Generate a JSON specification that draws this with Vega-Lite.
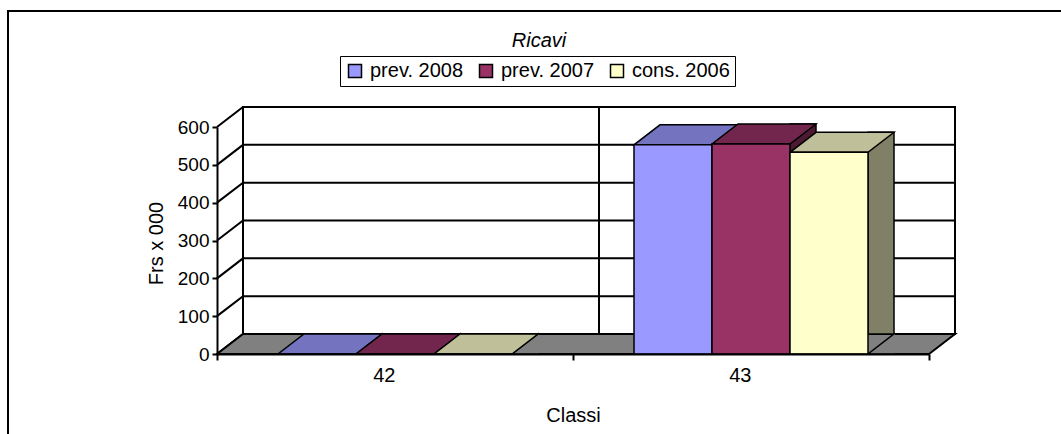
{
  "$schema": "https://vega.github.io/schema/vega-lite/v6.json",
  "width": 712,
  "height": 227,
  "autosize": {"type": "none"},
  "padding": {"left": 217, "top": 127, "right": 132, "bottom": 80},
  "background": "white",
  "config": {
    "font": "Liberation Sans",
    "view": {"stroke": null},
    "axisY": {"title": "Frs x 000", "labelOverlap": false, "grid": false, "domainColor": "black", "domainWidth": 2, "tickColor": "black", "tickWidth": 2, "tickSize": 5, "labelFontSize": 19, "labelColor": "black", "labelPadding": 3, "titleFontSize": 20, "titleFontWeight": "normal", "titleColor": "black", "titleX": -61, "titleY": 116, "titleBaseline": "middle", "zindex": 1}
  },
  "title": {"text": "Ricavi", "fontSize": 20, "fontStyle": "italic", "fontWeight": "normal", "color": "black", "anchor": "middle", "dx": -34, "baseline": "alphabetic", "offset": 0, "dy": 60},
  "datasets": {
    "ricavi": [
      {"classe": "42", "serie": "prev. 2008", "valore": 0},
      {"classe": "42", "serie": "prev. 2007", "valore": 0},
      {"classe": "42", "serie": "cons. 2006", "valore": 0},
      {"classe": "43", "serie": "prev. 2008", "valore": 553},
      {"classe": "43", "serie": "prev. 2007", "valore": 555},
      {"classe": "43", "serie": "cons. 2006", "valore": 533}
    ],
    "griglia": [{"valore": 0}, {"valore": 100}, {"valore": 200}, {"valore": 300}, {"valore": 400}, {"valore": 500}, {"valore": 600}],
    "ancora": [{"k": 1}]
  },
  "layer": [
    {
      "data": {"name": "ancora"},
      "mark": {"type": "point", "shape": "M-209,110L-209,-343L860,-343", "size": 4, "filled": false, "stroke": "black", "strokeWidth": 2, "opacity": 1},
      "encoding": {
        "x": {"datum": "42", "type": "nominal", "bandPosition": 0},
        "y": {"datum": 0, "type": "quantitative", "axis": {"title": "Frs x 000", "values": [0, 100, 200, 300, 400, 500, 600], "labelOverlap": false}}
      }
    },
    {
      "data": {"name": "ancora"},
      "mark": {"type": "point", "shape": "M26,-20L738,-20L738,-247L26,-247Z", "size": 4, "filled": false, "stroke": "black", "strokeWidth": 2, "opacity": 1},
      "encoding": {
        "x": {"datum": "42", "type": "nominal", "bandPosition": 0},
        "y": {"datum": 0, "type": "quantitative", "axis": {"title": "Frs x 000", "values": [0, 100, 200, 300, 400, 500, 600], "labelOverlap": false}}
      }
    },
    {
      "data": {"name": "griglia"},
      "mark": {"type": "point", "shape": "M0,0L26,-20L738,-20", "size": 4, "filled": false, "stroke": "black", "strokeWidth": 2, "opacity": 1},
      "encoding": {
        "x": {"datum": "42", "type": "nominal", "bandPosition": 0},
        "y": {"field": "valore", "type": "quantitative", "axis": {"title": "Frs x 000", "values": [0, 100, 200, 300, 400, 500, 600], "labelOverlap": false}}
      }
    },
    {
      "data": {"name": "ancora"},
      "mark": {"type": "point", "shape": "M26,-20L26,-247", "size": 4, "filled": false, "stroke": "black", "strokeWidth": 2, "opacity": 1},
      "encoding": {
        "x": {"datum": "43", "type": "nominal", "bandPosition": 0},
        "y": {"datum": 0, "type": "quantitative", "axis": {"title": "Frs x 000", "values": [0, 100, 200, 300, 400, 500, 600], "labelOverlap": false}}
      }
    },
    {
      "data": {"name": "ancora"},
      "mark": {"type": "point", "shape": "M0,0L712,0L738,-20L26,-20Z", "size": 4, "filled": true, "fill": "#808080", "stroke": "black", "strokeWidth": 2, "opacity": 1},
      "encoding": {
        "x": {"datum": "42", "type": "nominal", "bandPosition": 0},
        "y": {"datum": 0, "type": "quantitative", "axis": {"title": "Frs x 000", "values": [0, 100, 200, 300, 400, 500, 600], "labelOverlap": false}}
      }
    },
    {
      "data": {"name": "ricavi"},
      "transform": [{"filter": "datum.serie === 'prev. 2008'"}],
      "mark": {"type": "bar", "width": 26, "xOffset": -26, "yOffset": -20, "fill": "#4D4D80", "stroke": "black", "strokeWidth": 1.5, "opacity": 1},
      "encoding": {
        "x": {"field": "classe", "type": "nominal"},
        "y": {"field": "valore", "type": "quantitative", "axis": {"title": "Frs x 000", "values": [0, 100, 200, 300, 400, 500, 600], "labelOverlap": false}}
      }
    },
    {
      "data": {"name": "ricavi"},
      "transform": [{"filter": "datum.serie === 'prev. 2007'"}],
      "mark": {"type": "bar", "width": 26, "xOffset": 52, "yOffset": -20, "fill": "#4D1A33", "stroke": "black", "strokeWidth": 1.5, "opacity": 1},
      "encoding": {
        "x": {"field": "classe", "type": "nominal"},
        "y": {"field": "valore", "type": "quantitative", "axis": {"title": "Frs x 000", "values": [0, 100, 200, 300, 400, 500, 600], "labelOverlap": false}}
      }
    },
    {
      "data": {"name": "ricavi"},
      "transform": [{"filter": "datum.serie === 'cons. 2006'"}],
      "mark": {"type": "bar", "width": 26, "xOffset": 130, "yOffset": -20, "fill": "#808066", "stroke": "black", "strokeWidth": 1.5, "opacity": 1},
      "encoding": {
        "x": {"field": "classe", "type": "nominal"},
        "y": {"field": "valore", "type": "quantitative", "axis": {"title": "Frs x 000", "values": [0, 100, 200, 300, 400, 500, 600], "labelOverlap": false}}
      }
    },
    {
      "data": {"name": "ricavi"},
      "mark": {"type": "point", "shape": "M66,0L39,0L66,-20.8", "size": 4, "filled": true, "fill": "#808080", "stroke": "black", "strokeWidth": 1.5, "opacity": 1},
      "encoding": {
        "x": {"field": "classe", "type": "nominal"},
        "xOffset": {"field": "serie", "type": "nominal", "sort": ["prev. 2008", "prev. 2007", "cons. 2006"]},
        "y": {"datum": 0, "type": "quantitative", "axis": {"title": "Frs x 000", "values": [0, 100, 200, 300, 400, 500, 600], "labelOverlap": false}}
      }
    },
    {
      "data": {"name": "ricavi"},
      "mark": {"type": "point", "shape": "M-39,0L39,0L65,-20L-13,-20Z", "size": 4, "filled": true, "stroke": "black", "strokeWidth": 1.5, "opacity": 1},
      "encoding": {
        "x": {"field": "classe", "type": "nominal"},
        "xOffset": {"field": "serie", "type": "nominal", "sort": ["prev. 2008", "prev. 2007", "cons. 2006"]},
        "y": {"field": "valore", "type": "quantitative", "axis": {"title": "Frs x 000", "values": [0, 100, 200, 300, 400, 500, 600], "labelOverlap": false}},
        "color": {"field": "serie", "type": "nominal", "legend": null, "scale": {"domain": ["prev. 2008", "prev. 2007", "cons. 2006"], "range": ["#7373BF", "#73264D", "#BFBF99"]}}
      }
    },
    {
      "data": {"name": "ricavi"},
      "mark": {"type": "bar", "stroke": "black", "strokeWidth": 1.5, "opacity": 1},
      "encoding": {
        "x": {
          "field": "classe", "type": "nominal",
          "scale": {"type": "band", "domain": ["42", "43"], "paddingInner": 0, "paddingOuter": 0},
          "axis": {"title": "Classi", "labelAngle": 0, "tickBand": "extent", "domainColor": "black", "domainWidth": 2, "tickColor": "black", "tickWidth": 2, "tickSize": 6, "labelFontSize": 20, "labelColor": "black", "labelPadding": 15, "titleFontSize": 20, "titleFontWeight": "normal", "titleColor": "black", "titlePadding": 20, "zindex": 1}
        },
        "xOffset": {"field": "serie", "type": "nominal", "sort": ["prev. 2008", "prev. 2007", "cons. 2006"], "scale": {"type": "band", "paddingInner": 0, "paddingOuter": 0.782}},
        "y": {
          "field": "valore", "type": "quantitative",
          "scale": {"domain": [0, 600], "nice": false},
          "axis": {"title": "Frs x 000", "values": [0, 100, 200, 300, 400, 500, 600], "labelOverlap": false}
        },
        "color": {
          "field": "serie", "type": "nominal",
          "scale": {"domain": ["prev. 2008", "prev. 2007", "cons. 2006"], "range": ["#9999FF", "#993366", "#FFFFCC"]},
          "legend": {"orient": "none", "legendX": 123, "legendY": -71, "direction": "horizontal", "title": null, "symbolType": "square", "symbolSize": 169, "symbolStrokeColor": "black", "symbolStrokeWidth": 1.5, "symbolOpacity": 1, "labelFontSize": 20, "labelColor": "black", "labelOffset": 5, "columnPadding": 12, "padding": 5, "strokeColor": "black"}
        }
      }
    }
  ],
  "resolve": {"scale": {"color": "independent"}}
}
